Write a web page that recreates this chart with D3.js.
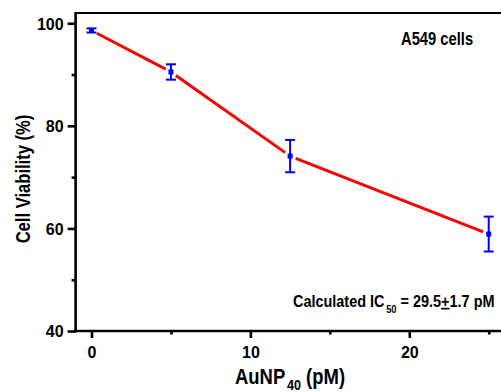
<!DOCTYPE html>
<html>
<head>
<meta charset="utf-8">
<script src="https://cdn.jsdelivr.net/npm/d3@7"></script>
<style>
  html, body { margin: 0; padding: 0; background: #fff; }
  svg { display: block; }
  text { font-family: "Liberation Sans", Arial, sans-serif; font-weight: bold; fill: #000; }
</style>
</head>
<body>
<svg id="chart" width="501" height="392"></svg>
<script>
// AuNP40 concentration (pM) and A549 cell viability (%) with SD
const concentrations = [0, 5, 12.5, 25];
const viability = [98.6, 90.5, 74.1, 58.9];
const viabilityErr = [0.4, 1.5, 3.15, 3.4];

const yMajorTicks = [40, 60, 80, 100];
const yMinorTicks = [50, 70, 90];
const xMajorTicks = [0, 10, 20];
const xMinorTicks = [5, 15, 25];

const svg = d3.select("#chart");

const x = d3.scaleLinear().domain([-1, 27]).range([75.6, 520.5]);
const y = d3.scaleLinear().domain([40, 102]).range([331, 13]);

const axisColor = "#000";

// Condensed bold text: a group placed at (px, py), optionally rotated, squeezed horizontally
function condensedText(px, py, squeeze, size, rotate = 0) {
  return svg.append("g")
    .attr("transform", `translate(${px},${py}) rotate(${rotate}) scale(${squeeze},1)`)
    .append("text")
    .style("font-size", size + "px");
}

// Frame: left, bottom and top lines (the right side runs past the view)
svg.append("line").attr("x1", x(-1)).attr("x2", x(-1)).attr("y1", y(102)).attr("y2", y(40) + 1.2)
  .attr("stroke", axisColor).attr("stroke-width", 2.6);
svg.append("line").attr("x1", x(-1) - 1.2).attr("x2", 501).attr("y1", y(40)).attr("y2", y(40))
  .attr("stroke", axisColor).attr("stroke-width", 2.6);
svg.append("line").attr("x1", x(-1) - 1.2).attr("x2", 501).attr("y1", y(102)).attr("y2", y(102))
  .attr("stroke", axisColor).attr("stroke-width", 2.2);

// Y axis
const yAxis = d3.axisLeft(y).tickValues(yMajorTicks).tickSize(8).tickPadding(4).tickFormat(d3.format("d"));
const yAxisG = svg.append("g").attr("transform", `translate(${x(-1)},0)`).call(yAxis);
yAxisG.select(".domain").remove();
yAxisG.selectAll(".tick line").attr("stroke", axisColor).attr("stroke-width", 2.6);
yAxisG.selectAll(".tick text").style("font-size", "16px").attr("dy", "0.36em");

const yMinor = d3.axisLeft(y).tickValues(yMinorTicks).tickSize(4).tickFormat("");
const yMinorG = svg.append("g").attr("transform", `translate(${x(-1)},0)`).call(yMinor);
yMinorG.select(".domain").remove();
yMinorG.selectAll(".tick line").attr("stroke", axisColor).attr("stroke-width", 2.6);

// X axis
const xAxis = d3.axisBottom(x).tickValues(xMajorTicks).tickSize(7).tickPadding(9).tickFormat(d3.format("d"));
const xAxisG = svg.append("g").attr("transform", `translate(0,${y(40)})`).call(xAxis);
xAxisG.select(".domain").remove();
xAxisG.selectAll(".tick line").attr("stroke", axisColor).attr("stroke-width", 2.6);
xAxisG.selectAll(".tick text").style("font-size", "16px");

const xMinor = d3.axisBottom(x).tickValues(xMinorTicks).tickSize(3.5).tickFormat("");
const xMinorG = svg.append("g").attr("transform", `translate(0,${y(40)})`).call(xMinor);
xMinorG.select(".domain").remove();
xMinorG.selectAll(".tick line").attr("stroke", axisColor).attr("stroke-width", 2.6);

// Axis titles
condensedText(29.5, 179, 0.83, 20, -90)
  .attr("text-anchor", "middle")
  .text("Cell Viability (%)");

const xTitle = condensedText(235, 384, 0.84, 22);
xTitle.append("tspan").text("AuNP");
xTitle.append("tspan").attr("dx", 2).attr("dy", 6).style("font-size", "15px").text("40");
xTitle.append("tspan").attr("dy", -6).text(" (pM)");

// Connecting line, broken around each marker
const pts = concentrations.map((c, i) => [x(c), y(viability[i])]);
const gap = 6;
const segs = d3.pairs(pts).map(([a, b]) => {
  const dx = b[0] - a[0], dy = b[1] - a[1];
  const len = Math.hypot(dx, dy);
  const ux = dx / len, uy = dy / len;
  return [[a[0] + ux * gap, a[1] + uy * gap], [b[0] - ux * gap, b[1] - uy * gap]];
});
svg.append("g").selectAll("line").data(segs).join("line")
  .attr("x1", d => d[0][0]).attr("y1", d => d[0][1])
  .attr("x2", d => d[1][0]).attr("y2", d => d[1][1])
  .attr("stroke", "#ff0000").attr("stroke-width", 3);

// Error bars
const blue = "#0000ff";
const capW = 5;
const eb = svg.append("g").attr("stroke", blue).attr("stroke-width", 2);
concentrations.forEach((c, i) => {
  const cx = x(c);
  const top = y(viability[i] + viabilityErr[i]);
  const bot = y(viability[i] - viabilityErr[i]);
  eb.append("line").attr("x1", cx).attr("x2", cx).attr("y1", top).attr("y2", bot);
  eb.append("line").attr("x1", cx - capW).attr("x2", cx + capW).attr("y1", top).attr("y2", top);
  eb.append("line").attr("x1", cx - capW).attr("x2", cx + capW).attr("y1", bot).attr("y2", bot);
});

// Markers
svg.append("g").selectAll("rect").data(concentrations).join("rect")
  .attr("x", d => x(d) - 2.5)
  .attr("y", (d, i) => y(viability[i]) - 2.5)
  .attr("width", 5).attr("height", 5)
  .attr("fill", blue);

// Annotations
condensedText(401, 45, 0.82, 18).text("A549 cells");

const ic = condensedText(293, 306.7, 0.85, 17);
ic.append("tspan").text("Calculated IC");
ic.append("tspan").attr("dx", 2).attr("dy", 6).style("font-size", "11px").text("50");
ic.append("tspan").attr("dy", -6).text(" = 29.5");
ic.append("tspan").attr("text-decoration", "underline").text("+");
ic.append("tspan").text("1.7 pM");
</script>
</body>
</html>
